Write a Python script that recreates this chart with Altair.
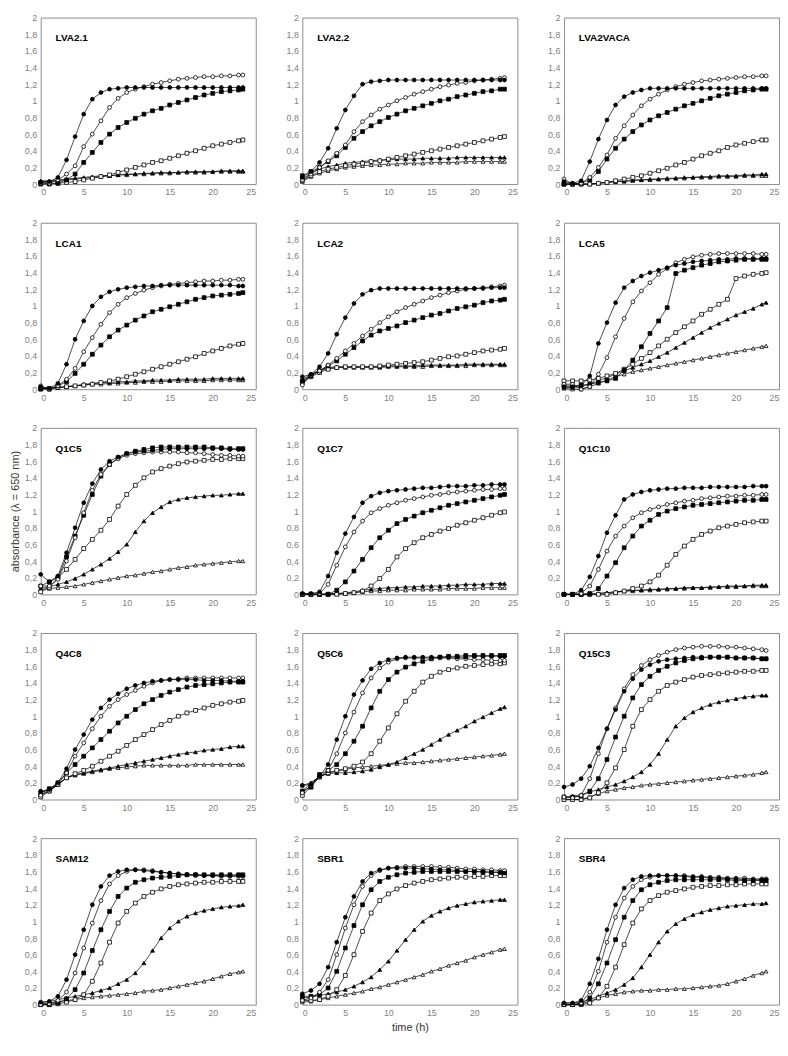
import altair as alt
import pandas as pd

# time points (h)
T = list(range(24)) + [23.5]

PANELS = ["LVA2.1", "LVA2.2", "LVA2VACA", "LCA1", "LCA2", "LCA5",
          "Q1C5", "Q1C7", "Q1C10", "Q4C8", "Q5C6", "Q15C3",
          "SAM12", "SBR1", "SBR4"]
SERIES = ["FC", "OC", "FS", "OS", "FT", "OT"]  # filled/open circle, square, triangle

# ---------------- LVA2.1
lva21_fc = [0.02,0.03,0.08,0.29,0.57,0.84,1.02,1.1,1.14,1.15,1.16,1.16,1.16,1.16,1.16,1.16,1.16,1.16,1.16,1.16,1.16,1.16,1.16,1.16,1.16]
lva21_oc = [0.01,0.01,0.05,0.12,0.22,0.45,0.6,0.76,0.92,1.03,1.1,1.14,1.17,1.2,1.22,1.24,1.26,1.27,1.28,1.29,1.29,1.3,1.3,1.31,1.31]
lva21_fs = [0.0,0.0,0.01,0.05,0.12,0.26,0.38,0.5,0.6,0.68,0.74,0.79,0.84,0.88,0.91,0.95,0.98,1.01,1.04,1.07,1.09,1.11,1.12,1.13,1.14]
lva21_os = [0.02,0.01,0.01,0.02,0.03,0.05,0.07,0.09,0.11,0.14,0.17,0.2,0.23,0.26,0.28,0.31,0.34,0.37,0.4,0.43,0.46,0.48,0.5,0.52,0.53]
lva21_ft = [0.04,0.04,0.05,0.06,0.07,0.08,0.09,0.1,0.1,0.11,0.12,0.12,0.13,0.13,0.14,0.14,0.14,0.15,0.15,0.15,0.15,0.16,0.16,0.16,0.16]
lva21_ot = [0.03,0.03,0.04,0.05,0.06,0.07,0.08,0.09,0.1,0.11,0.11,0.12,0.12,0.13,0.13,0.13,0.14,0.14,0.14,0.14,0.15,0.15,0.15,0.15,0.15]
# ---------------- LVA2.2
lva22_fc = [0.08,0.15,0.26,0.43,0.67,0.89,1.06,1.2,1.23,1.24,1.25,1.25,1.25,1.25,1.25,1.25,1.25,1.25,1.25,1.25,1.25,1.25,1.25,1.25,1.25]
lva22_oc = [0.05,0.12,0.2,0.28,0.37,0.47,0.63,0.75,0.83,0.9,0.95,1.0,1.04,1.08,1.11,1.14,1.17,1.19,1.21,1.22,1.24,1.25,1.26,1.27,1.28]
lva22_fs = [0.1,0.15,0.2,0.27,0.34,0.44,0.55,0.63,0.7,0.75,0.8,0.84,0.88,0.91,0.94,0.97,1.0,1.02,1.05,1.07,1.09,1.11,1.12,1.14,1.14]
lva22_os = [0.04,0.1,0.15,0.18,0.2,0.22,0.24,0.25,0.27,0.28,0.3,0.32,0.34,0.36,0.38,0.4,0.42,0.44,0.46,0.48,0.5,0.52,0.54,0.56,0.57]
lva22_ft = [0.06,0.13,0.18,0.21,0.23,0.25,0.26,0.27,0.28,0.29,0.29,0.3,0.3,0.3,0.31,0.31,0.31,0.31,0.32,0.32,0.32,0.32,0.32,0.32,0.32]
lva22_ot = [0.03,0.09,0.13,0.16,0.18,0.2,0.21,0.22,0.23,0.23,0.24,0.24,0.25,0.25,0.25,0.26,0.26,0.26,0.26,0.27,0.27,0.27,0.27,0.27,0.27]
# ---------------- LVA2VACA
lva2vaca_fc = [0.03,0.01,0.04,0.27,0.54,0.77,0.95,1.05,1.1,1.13,1.15,1.15,1.15,1.15,1.15,1.15,1.15,1.15,1.15,1.15,1.15,1.15,1.15,1.15,1.15]
lva2vaca_oc = [0.06,0.0,0.01,0.08,0.2,0.35,0.55,0.7,0.83,0.94,1.02,1.08,1.13,1.17,1.2,1.22,1.24,1.25,1.26,1.27,1.28,1.29,1.29,1.3,1.3]
lva2vaca_fs = [0.0,0.0,0.01,0.05,0.15,0.3,0.43,0.54,0.63,0.71,0.77,0.82,0.86,0.9,0.94,0.97,1.0,1.03,1.06,1.08,1.1,1.12,1.13,1.14,1.14]
lva2vaca_os = [0.0,0.0,0.0,0.0,0.01,0.02,0.04,0.06,0.08,0.1,0.13,0.16,0.19,0.23,0.26,0.3,0.34,0.37,0.4,0.44,0.47,0.49,0.51,0.53,0.53]
lva2vaca_ft = [0.0,0.0,0.0,0.0,0.01,0.02,0.03,0.04,0.05,0.05,0.06,0.06,0.07,0.07,0.08,0.08,0.09,0.09,0.1,0.1,0.1,0.11,0.11,0.12,0.12]
lva2vaca_ot = [0.0,0.0,0.0,0.0,0.01,0.02,0.03,0.03,0.04,0.05,0.05,0.06,0.06,0.07,0.07,0.08,0.08,0.08,0.09,0.09,0.09,0.1,0.1,0.1,0.1]
# ---------------- LCA1
lca1_fc = [0.03,0.01,0.07,0.3,0.6,0.82,1.0,1.11,1.17,1.2,1.22,1.23,1.24,1.24,1.25,1.25,1.25,1.25,1.25,1.25,1.25,1.25,1.25,1.24,1.24]
lca1_oc = [0.04,0.0,0.04,0.12,0.25,0.45,0.62,0.78,0.92,1.02,1.1,1.15,1.19,1.22,1.24,1.26,1.27,1.28,1.29,1.3,1.3,1.31,1.31,1.32,1.32]
lca1_fs = [0.0,0.0,0.04,0.09,0.19,0.3,0.42,0.53,0.63,0.71,0.77,0.83,0.88,0.93,0.96,0.99,1.02,1.05,1.08,1.1,1.12,1.13,1.14,1.15,1.16]
lca1_os = [0.01,0.01,0.02,0.03,0.04,0.05,0.06,0.08,0.1,0.12,0.15,0.18,0.21,0.24,0.27,0.3,0.33,0.36,0.39,0.43,0.46,0.49,0.52,0.54,0.55]
lca1_ft = [0.01,0.01,0.02,0.03,0.04,0.06,0.07,0.08,0.08,0.09,0.09,0.1,0.1,0.11,0.11,0.11,0.12,0.12,0.12,0.12,0.13,0.13,0.13,0.13,0.13]
lca1_ot = [0.01,0.01,0.02,0.03,0.04,0.05,0.06,0.06,0.07,0.07,0.08,0.08,0.09,0.09,0.09,0.1,0.1,0.1,0.1,0.1,0.11,0.11,0.11,0.11,0.11]
# ---------------- LCA2
lca2_fc = [0.15,0.18,0.27,0.43,0.66,0.86,1.03,1.14,1.19,1.21,1.21,1.21,1.21,1.21,1.21,1.21,1.21,1.21,1.21,1.21,1.21,1.21,1.22,1.22,1.22]
lca2_oc = [0.05,0.17,0.22,0.29,0.37,0.46,0.55,0.64,0.72,0.8,0.87,0.93,0.98,1.02,1.06,1.1,1.13,1.16,1.18,1.2,1.21,1.22,1.23,1.24,1.25]
lca2_fs = [0.1,0.16,0.22,0.28,0.34,0.42,0.5,0.58,0.65,0.7,0.73,0.76,0.8,0.83,0.86,0.89,0.91,0.94,0.97,0.99,1.01,1.04,1.06,1.07,1.08]
lca2_os = [0.08,0.15,0.2,0.24,0.26,0.27,0.27,0.27,0.27,0.28,0.29,0.3,0.31,0.32,0.33,0.35,0.37,0.39,0.4,0.42,0.44,0.46,0.47,0.48,0.49]
lca2_ft = [0.12,0.18,0.23,0.26,0.27,0.27,0.27,0.27,0.27,0.27,0.28,0.28,0.28,0.28,0.29,0.29,0.29,0.29,0.29,0.3,0.3,0.3,0.3,0.3,0.3]
lca2_ot = [0.1,0.17,0.22,0.25,0.26,0.26,0.26,0.26,0.26,0.26,0.27,0.27,0.27,0.27,0.27,0.28,0.28,0.28,0.28,0.28,0.29,0.29,0.29,0.29,0.29]
# ---------------- LCA5
lca5_fc = [0.03,0.03,0.04,0.16,0.55,0.8,1.04,1.22,1.3,1.36,1.4,1.43,1.46,1.49,1.51,1.53,1.54,1.55,1.56,1.56,1.57,1.57,1.57,1.57,1.57]
lca5_oc = [0.06,0.06,0.0,0.03,0.18,0.38,0.63,0.85,1.05,1.18,1.28,1.38,1.45,1.52,1.56,1.59,1.61,1.62,1.63,1.63,1.63,1.63,1.63,1.62,1.62]
lca5_fs = [0.04,0.04,0.05,0.06,0.08,0.1,0.13,0.23,0.35,0.51,0.67,0.82,0.98,1.39,1.43,1.46,1.49,1.51,1.53,1.54,1.55,1.56,1.56,1.56,1.56]
lca5_os = [0.1,0.1,0.1,0.11,0.13,0.16,0.19,0.24,0.3,0.37,0.44,0.52,0.6,0.68,0.75,0.82,0.9,0.96,1.02,1.08,1.33,1.36,1.38,1.39,1.4]
lca5_ft = [0.02,0.02,0.03,0.06,0.1,0.14,0.18,0.22,0.26,0.3,0.34,0.39,0.44,0.5,0.56,0.62,0.68,0.74,0.79,0.84,0.89,0.93,0.97,1.02,1.04]
lca5_ot = [0.01,0.0,0.0,0.03,0.07,0.11,0.15,0.18,0.21,0.23,0.25,0.27,0.29,0.31,0.33,0.35,0.37,0.39,0.41,0.43,0.45,0.47,0.49,0.51,0.52]
# ---------------- Q1C5
q1c5_fc = [0.24,0.15,0.22,0.5,0.8,1.1,1.33,1.5,1.6,1.65,1.69,1.71,1.72,1.73,1.74,1.75,1.75,1.75,1.75,1.75,1.75,1.75,1.74,1.74,1.74]
q1c5_oc = [0.1,0.1,0.18,0.4,0.68,0.98,1.25,1.44,1.56,1.63,1.67,1.69,1.7,1.71,1.71,1.71,1.71,1.7,1.7,1.69,1.68,1.67,1.67,1.66,1.66]
q1c5_fs = [0.1,0.15,0.2,0.45,0.7,0.95,1.2,1.42,1.56,1.64,1.69,1.72,1.74,1.76,1.77,1.77,1.77,1.77,1.77,1.77,1.76,1.76,1.75,1.75,1.75]
q1c5_os = [0.03,0.08,0.2,0.3,0.42,0.55,0.66,0.77,0.9,1.06,1.2,1.31,1.4,1.47,1.51,1.54,1.57,1.59,1.6,1.61,1.62,1.62,1.63,1.63,1.63]
q1c5_ft = [0.07,0.09,0.12,0.15,0.19,0.24,0.3,0.36,0.43,0.51,0.6,0.75,0.88,0.98,1.05,1.11,1.14,1.16,1.17,1.18,1.19,1.19,1.2,1.21,1.21]
q1c5_ot = [0.06,0.07,0.08,0.09,0.1,0.12,0.14,0.16,0.18,0.2,0.22,0.23,0.25,0.27,0.28,0.3,0.32,0.33,0.35,0.36,0.37,0.38,0.39,0.4,0.4]
# ---------------- Q1C7
q1c7_fc = [0.01,0.01,0.03,0.22,0.5,0.73,0.93,1.1,1.18,1.22,1.24,1.25,1.26,1.27,1.28,1.28,1.29,1.3,1.3,1.3,1.31,1.31,1.32,1.32,1.32]
q1c7_oc = [0.0,0.0,0.01,0.12,0.35,0.57,0.75,0.88,0.98,1.03,1.07,1.1,1.13,1.15,1.17,1.19,1.2,1.22,1.23,1.24,1.25,1.26,1.26,1.27,1.27]
q1c7_fs = [0.0,0.0,0.0,0.0,0.05,0.15,0.28,0.42,0.56,0.68,0.77,0.85,0.9,0.94,0.98,1.01,1.04,1.07,1.09,1.11,1.13,1.15,1.17,1.19,1.2]
q1c7_os = [0.0,0.0,0.0,0.0,0.0,0.01,0.02,0.04,0.1,0.19,0.3,0.45,0.55,0.62,0.68,0.72,0.76,0.79,0.83,0.86,0.89,0.92,0.95,0.98,0.99]
q1c7_ft = [0.0,0.0,0.0,0.01,0.01,0.02,0.03,0.05,0.06,0.07,0.08,0.08,0.09,0.09,0.1,0.1,0.1,0.11,0.11,0.12,0.12,0.12,0.13,0.13,0.13]
q1c7_ot = [0.0,0.0,0.0,0.0,0.01,0.01,0.02,0.03,0.04,0.04,0.05,0.05,0.05,0.06,0.06,0.06,0.06,0.07,0.07,0.07,0.07,0.08,0.08,0.08,0.08]
# ---------------- Q1C10
q1c10_fc = [0.0,0.0,0.05,0.21,0.46,0.74,0.95,1.14,1.2,1.23,1.25,1.26,1.27,1.27,1.28,1.28,1.28,1.29,1.29,1.29,1.29,1.29,1.3,1.3,1.3]
q1c10_oc = [0.0,0.0,0.01,0.1,0.3,0.52,0.7,0.82,0.92,0.98,1.02,1.05,1.08,1.1,1.12,1.13,1.15,1.16,1.17,1.18,1.18,1.19,1.19,1.2,1.2]
q1c10_fs = [0.0,0.0,0.0,0.01,0.07,0.22,0.38,0.56,0.7,0.82,0.89,0.96,1.0,1.03,1.05,1.07,1.08,1.09,1.1,1.11,1.12,1.13,1.13,1.14,1.14]
q1c10_os = [0.0,0.0,0.0,0.0,0.0,0.0,0.02,0.04,0.07,0.1,0.15,0.23,0.35,0.48,0.58,0.66,0.72,0.76,0.8,0.82,0.84,0.86,0.87,0.88,0.88]
q1c10_ft = [0.0,0.0,0.0,0.0,0.01,0.02,0.03,0.04,0.05,0.05,0.06,0.06,0.07,0.07,0.08,0.08,0.08,0.09,0.09,0.1,0.1,0.1,0.11,0.11,0.11]
q1c10_ot = [0.0,0.0,0.0,0.0,0.01,0.02,0.03,0.04,0.04,0.05,0.05,0.06,0.06,0.07,0.07,0.08,0.08,0.08,0.09,0.09,0.09,0.1,0.1,0.1,0.1]
# ---------------- Q4C8
q4c8_fc = [0.1,0.12,0.2,0.37,0.6,0.78,0.96,1.1,1.2,1.27,1.33,1.37,1.4,1.42,1.43,1.44,1.44,1.44,1.44,1.43,1.43,1.43,1.42,1.42,1.42]
q4c8_oc = [0.05,0.1,0.18,0.32,0.52,0.68,0.85,1.0,1.12,1.2,1.26,1.31,1.36,1.4,1.43,1.44,1.45,1.46,1.46,1.46,1.46,1.46,1.46,1.46,1.46]
q4c8_fs = [0.08,0.13,0.2,0.32,0.42,0.52,0.62,0.72,0.82,0.92,1.0,1.08,1.15,1.2,1.25,1.29,1.32,1.35,1.37,1.38,1.39,1.4,1.41,1.41,1.41]
q4c8_os = [0.03,0.1,0.18,0.26,0.31,0.35,0.4,0.46,0.52,0.58,0.65,0.72,0.78,0.84,0.9,0.95,1.0,1.04,1.07,1.1,1.13,1.15,1.17,1.18,1.19]
q4c8_ft = [0.06,0.11,0.18,0.26,0.3,0.32,0.34,0.36,0.38,0.4,0.42,0.44,0.46,0.48,0.5,0.52,0.54,0.56,0.57,0.59,0.6,0.61,0.63,0.64,0.64]
q4c8_ot = [0.08,0.12,0.18,0.26,0.29,0.31,0.33,0.35,0.37,0.38,0.39,0.4,0.41,0.41,0.41,0.41,0.41,0.41,0.42,0.42,0.42,0.42,0.42,0.42,0.42]
# ---------------- Q5C6
q5c6_fc = [0.17,0.18,0.28,0.42,0.72,1.0,1.26,1.43,1.57,1.64,1.68,1.7,1.71,1.71,1.71,1.71,1.71,1.71,1.71,1.71,1.72,1.72,1.72,1.72,1.72]
q5c6_oc = [0.08,0.17,0.27,0.35,0.55,0.8,1.05,1.28,1.46,1.58,1.65,1.69,1.7,1.7,1.7,1.7,1.7,1.7,1.69,1.69,1.68,1.68,1.67,1.67,1.67]
q5c6_fs = [0.1,0.15,0.3,0.35,0.42,0.55,0.7,0.88,1.1,1.3,1.44,1.53,1.59,1.63,1.66,1.69,1.71,1.72,1.72,1.73,1.73,1.73,1.73,1.73,1.73]
q5c6_os = [0.05,0.15,0.27,0.32,0.35,0.37,0.4,0.45,0.55,0.7,0.86,1.03,1.18,1.3,1.41,1.48,1.53,1.56,1.58,1.6,1.61,1.62,1.63,1.63,1.64]
q5c6_ft = [0.17,0.2,0.28,0.31,0.32,0.32,0.33,0.34,0.36,0.39,0.42,0.45,0.5,0.55,0.6,0.66,0.72,0.78,0.83,0.88,0.94,0.99,1.04,1.09,1.11]
q5c6_ot = [0.1,0.2,0.27,0.32,0.34,0.36,0.38,0.39,0.4,0.41,0.42,0.43,0.44,0.44,0.45,0.46,0.47,0.48,0.49,0.5,0.51,0.52,0.53,0.54,0.55]
# ---------------- Q15C3
q15c3_fc = [0.15,0.18,0.25,0.4,0.62,0.85,1.08,1.3,1.45,1.56,1.62,1.66,1.68,1.69,1.7,1.71,1.71,1.71,1.71,1.71,1.7,1.7,1.7,1.69,1.69]
q15c3_oc = [0.03,0.02,0.05,0.25,0.55,0.85,1.1,1.33,1.5,1.61,1.68,1.73,1.77,1.8,1.82,1.83,1.84,1.84,1.84,1.83,1.83,1.82,1.81,1.8,1.79]
q15c3_fs = [0.03,0.03,0.04,0.1,0.25,0.48,0.75,1.0,1.22,1.38,1.48,1.55,1.6,1.64,1.67,1.69,1.7,1.71,1.71,1.71,1.7,1.7,1.7,1.69,1.69]
q15c3_os = [0.0,0.0,0.0,0.02,0.08,0.2,0.38,0.6,0.88,1.08,1.2,1.3,1.37,1.41,1.44,1.47,1.49,1.5,1.51,1.52,1.53,1.54,1.54,1.55,1.55]
q15c3_ft = [0.02,0.04,0.06,0.09,0.12,0.15,0.18,0.22,0.27,0.33,0.42,0.55,0.72,0.88,0.98,1.05,1.1,1.14,1.17,1.19,1.21,1.23,1.24,1.25,1.25]
q15c3_ot = [0.0,0.0,0.0,0.03,0.07,0.1,0.12,0.14,0.15,0.17,0.18,0.19,0.2,0.21,0.22,0.23,0.24,0.25,0.26,0.27,0.28,0.29,0.3,0.32,0.33]
# ---------------- SAM12
sam12_fc = [0.03,0.04,0.1,0.3,0.6,0.9,1.2,1.42,1.55,1.6,1.62,1.62,1.61,1.6,1.59,1.58,1.57,1.56,1.56,1.55,1.55,1.55,1.55,1.55,1.55]
sam12_oc = [0.0,0.01,0.05,0.15,0.38,0.68,0.98,1.25,1.45,1.55,1.6,1.62,1.62,1.61,1.59,1.58,1.57,1.56,1.55,1.55,1.55,1.54,1.54,1.54,1.54]
sam12_fs = [0.0,0.0,0.02,0.07,0.18,0.38,0.65,0.9,1.12,1.3,1.4,1.47,1.5,1.52,1.53,1.54,1.55,1.56,1.56,1.56,1.56,1.56,1.56,1.56,1.56]
sam12_os = [0.0,0.0,0.01,0.03,0.06,0.12,0.28,0.5,0.75,0.98,1.12,1.22,1.3,1.35,1.39,1.42,1.44,1.45,1.46,1.47,1.47,1.48,1.48,1.48,1.48]
sam12_ft = [0.02,0.04,0.06,0.08,0.1,0.12,0.14,0.17,0.2,0.25,0.3,0.38,0.5,0.65,0.8,0.92,1.0,1.06,1.1,1.13,1.15,1.17,1.18,1.19,1.2]
sam12_ot = [0.01,0.02,0.03,0.05,0.06,0.08,0.09,0.1,0.11,0.12,0.13,0.14,0.16,0.17,0.18,0.2,0.22,0.24,0.26,0.28,0.31,0.34,0.37,0.39,0.4]
# ---------------- SBR1
sbr1_fc = [0.13,0.17,0.25,0.45,0.75,1.05,1.3,1.48,1.58,1.62,1.64,1.64,1.64,1.64,1.63,1.63,1.62,1.62,1.61,1.6,1.6,1.6,1.59,1.59,1.58]
sbr1_oc = [0.05,0.08,0.15,0.3,0.6,0.92,1.2,1.42,1.55,1.61,1.64,1.65,1.66,1.66,1.66,1.66,1.65,1.65,1.64,1.63,1.63,1.62,1.62,1.61,1.61]
sbr1_fs = [0.1,0.1,0.12,0.2,0.4,0.68,0.95,1.2,1.38,1.48,1.53,1.56,1.58,1.59,1.6,1.6,1.6,1.6,1.6,1.6,1.6,1.59,1.59,1.59,1.59]
sbr1_os = [0.05,0.05,0.06,0.1,0.18,0.35,0.6,0.88,1.1,1.25,1.33,1.39,1.43,1.46,1.48,1.5,1.51,1.52,1.53,1.53,1.54,1.54,1.55,1.55,1.55]
sbr1_ft = [0.08,0.09,0.11,0.13,0.15,0.18,0.22,0.27,0.33,0.42,0.52,0.65,0.78,0.9,1.0,1.07,1.12,1.16,1.19,1.21,1.23,1.24,1.25,1.26,1.26]
sbr1_ot = [0.03,0.04,0.06,0.08,0.1,0.12,0.14,0.16,0.19,0.21,0.24,0.27,0.3,0.33,0.36,0.4,0.43,0.47,0.5,0.53,0.57,0.6,0.63,0.66,0.67]
# ---------------- SBR4
sbr4_fc = [0.02,0.02,0.05,0.25,0.55,0.9,1.2,1.4,1.5,1.54,1.55,1.55,1.55,1.55,1.54,1.53,1.53,1.52,1.52,1.51,1.51,1.5,1.5,1.5,1.5]
sbr4_oc = [0.0,0.0,0.02,0.15,0.4,0.75,1.05,1.28,1.42,1.5,1.53,1.55,1.55,1.55,1.55,1.54,1.54,1.53,1.53,1.52,1.52,1.52,1.51,1.51,1.51]
sbr4_fs = [0.0,0.0,0.01,0.08,0.25,0.5,0.78,1.05,1.25,1.38,1.44,1.47,1.49,1.5,1.5,1.5,1.5,1.5,1.5,1.5,1.49,1.49,1.49,1.49,1.49]
sbr4_os = [0.0,0.0,0.0,0.02,0.08,0.22,0.45,0.72,0.98,1.15,1.25,1.31,1.35,1.37,1.39,1.41,1.42,1.43,1.43,1.44,1.44,1.45,1.45,1.45,1.45]
sbr4_ft = [0.02,0.02,0.03,0.06,0.1,0.14,0.18,0.24,0.32,0.45,0.6,0.75,0.88,0.97,1.03,1.08,1.11,1.14,1.16,1.18,1.19,1.2,1.21,1.21,1.22]
sbr4_ot = [0.0,0.0,0.01,0.04,0.08,0.11,0.13,0.15,0.16,0.17,0.17,0.18,0.18,0.19,0.19,0.2,0.21,0.22,0.23,0.25,0.28,0.31,0.35,0.38,0.4]

DATA = {
    "LVA2.1": [lva21_fc, lva21_oc, lva21_fs, lva21_os, lva21_ft, lva21_ot],
    "LVA2.2": [lva22_fc, lva22_oc, lva22_fs, lva22_os, lva22_ft, lva22_ot],
    "LVA2VACA": [lva2vaca_fc, lva2vaca_oc, lva2vaca_fs, lva2vaca_os, lva2vaca_ft, lva2vaca_ot],
    "LCA1": [lca1_fc, lca1_oc, lca1_fs, lca1_os, lca1_ft, lca1_ot],
    "LCA2": [lca2_fc, lca2_oc, lca2_fs, lca2_os, lca2_ft, lca2_ot],
    "LCA5": [lca5_fc, lca5_oc, lca5_fs, lca5_os, lca5_ft, lca5_ot],
    "Q1C5": [q1c5_fc, q1c5_oc, q1c5_fs, q1c5_os, q1c5_ft, q1c5_ot],
    "Q1C7": [q1c7_fc, q1c7_oc, q1c7_fs, q1c7_os, q1c7_ft, q1c7_ot],
    "Q1C10": [q1c10_fc, q1c10_oc, q1c10_fs, q1c10_os, q1c10_ft, q1c10_ot],
    "Q4C8": [q4c8_fc, q4c8_oc, q4c8_fs, q4c8_os, q4c8_ft, q4c8_ot],
    "Q5C6": [q5c6_fc, q5c6_oc, q5c6_fs, q5c6_os, q5c6_ft, q5c6_ot],
    "Q15C3": [q15c3_fc, q15c3_oc, q15c3_fs, q15c3_os, q15c3_ft, q15c3_ot],
    "SAM12": [sam12_fc, sam12_oc, sam12_fs, sam12_os, sam12_ft, sam12_ot],
    "SBR1": [sbr1_fc, sbr1_oc, sbr1_fs, sbr1_os, sbr1_ft, sbr1_ot],
    "SBR4": [sbr4_fc, sbr4_oc, sbr4_fs, sbr4_os, sbr4_ft, sbr4_ot],
}

X_TICKS = [0, 5, 10, 15, 20, 25]
Y_TICKS = [0, 0.2, 0.4, 0.6, 0.8, 1, 1.2, 1.4, 1.6, 1.8, 2]
SHAPES = ["circle", "circle", "square", "square", "triangle-up", "triangle-up"]
FILLS = ["black", "white", "black", "white", "black", "white"]
DRAW_ORDER = ["OT", "FT", "OS", "FS", "OC", "FC"]

W, H = 217, 168
FONT = "Liberation Sans"


def panel(i, name):
    rows = []
    for s, vals in zip(SERIES, DATA[name]):
        for t, v in zip(T, vals):
            rows.append({"series": s, "t": t, "v": v, "o": DRAW_ORDER.index(s)})
    df = pd.DataFrame(rows)

    x_axis = dict(values=X_TICKS, title=None)
    y_axis = dict(values=Y_TICKS, title=None,
                  labelExpr="replace(format(datum.value, '~g'), '.', ',')")
    if i == 13:
        x_axis["title"] = "time (h)"
    if i == 6:
        y_axis["title"] = "absorbance (λ = 650 nm)"

    x = alt.X("t:Q", scale=alt.Scale(domain=[0, 25], nice=False), axis=alt.Axis(**x_axis))
    y = alt.Y("v:Q", scale=alt.Scale(domain=[0, 2], nice=False), axis=alt.Axis(**y_axis))

    base = alt.Chart(df)
    lines = base.mark_line(color="black", strokeWidth=0.7).encode(
        x=x, y=y, detail="series:N")
    points = base.mark_point(filled=True, stroke="black", strokeWidth=0.8,
                             opacity=1, size=15).encode(
        x=x, y=y,
        shape=alt.Shape("series:N", scale=alt.Scale(domain=SERIES, range=SHAPES), legend=None),
        fill=alt.Fill("series:N", scale=alt.Scale(domain=SERIES, range=FILLS), legend=None),
        order=alt.Order("o:Q"),
    )
    label = alt.Chart(pd.DataFrame({"name": [name]})).mark_text(
        align="left", baseline="middle", fontSize=10, fontWeight="bold",
        font=FONT, color="black").encode(
        x=alt.value(15), y=alt.value(21), text="name:N")
    return alt.layer(lines, points, label).properties(width=W, height=H)


charts = [panel(i, n) for i, n in enumerate(PANELS)]

chart = alt.concat(*charts, columns=3, spacing={"row": 20, "column": 28}).properties(
    padding={"left": 0, "top": 0, "right": 0, "bottom": 0}
).configure_axis(
    grid=False, ticks=False, domain=False,
    labelColor="#7f7f7f", labelFont=FONT, labelFontSize=9, labelPadding=4,
    titleFont=FONT, titleFontSize=11, titleFontWeight="normal", titleColor="#333333",
    titlePadding=4,
).configure_view(
    stroke="#8c8c8c", strokeWidth=1
)

chart.save("out.html", embed_options={"renderer": "svg", "actions": False})
